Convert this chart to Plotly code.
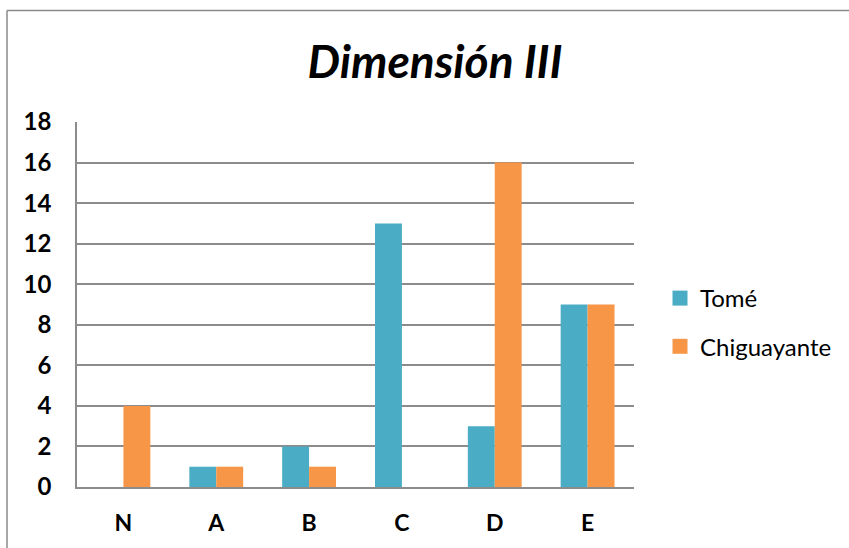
import plotly.graph_objects as go

categories = ["N", "A", "B", "C", "D", "E"]
tome = [0, 1, 2, 13, 3, 9]
chiguayante = [4, 1, 1, 0, 16, 9]
y_ticks = [0, 2, 4, 6, 8, 10, 12, 14, 16, 18]

TEAL = "#4BACC6"
ORANGE = "#F79646"
GRID = "#8C8C8C"
FONT = "Lato"

W, H = 849, 548
L, R, T, B = 77, 215, 122, 61

fig = go.Figure()
for name, vals, color, grp in [("Tomé", tome, TEAL, "t"),
                               ("Chiguayante", chiguayante, ORANGE, "c")]:
    fig.add_trace(go.Bar(x=categories, y=vals, name=name, marker_color=color,
                         marker_line_width=0, legendgroup=grp, showlegend=False))
    # legend key with a larger square swatch
    fig.add_trace(go.Scatter(x=[None], y=[None], mode="markers", name=name,
                             legendgroup=grp,
                             marker=dict(symbol="square", size=15, color=color)))

pw, ph = W - L - R, H - T - B
# outer chart frame (top and left edges)
bx = (7 - L) / pw
by = 1 + (T - 10.5) / ph
fig.add_shape(type="line", xref="paper", yref="paper", x0=bx, x1=(W + 20 - L) / pw,
              y0=by, y1=by, line=dict(color="#8A8A8A", width=1.5))
fig.add_shape(type="line", xref="paper", yref="paper", x0=bx, x1=bx,
              y0=by, y1=-(B + 20) / ph, line=dict(color="#8A8A8A", width=1.5))

fig.update_layout(
    width=W, height=H,
    margin=dict(l=L, r=R, t=T, b=B, autoexpand=False),
    paper_bgcolor="white", plot_bgcolor="white",
    barmode="group", bargap=0.42, bargroupgap=0,
    title=dict(text="<b><i>Dimensión III</i></b>", x=435 / W, xanchor="center",
               y=1 - 62 / H, yanchor="middle", yref="container",
               font=dict(family=FONT, size=46, color="black")),
    legend=dict(x=(660 - L) / pw, xanchor="left", y=1 - (322.5 - T) / ph,
                yanchor="middle",
                font=dict(family=FONT, size=24, color="black"),
                tracegroupgap=14, bgcolor="rgba(0,0,0,0)"),
    font=dict(family=FONT, color="black"),
)
fig.update_xaxes(showline=True, linecolor=GRID, linewidth=1.5, ticks="",
                 automargin=False,
                 tickfont=dict(family=FONT, size=23, color="black", weight="bold"),
                 ticklabelstandoff=15, showgrid=False)
fig.update_yaxes(range=[0, 18], tickvals=y_ticks, showline=True, linecolor=GRID,
                 linewidth=1.5, showgrid=True, gridcolor=GRID, gridwidth=1.5,
                 zeroline=False, ticks="", automargin=False,
                 tickfont=dict(family=FONT, size=24, color="black", weight="bold"),
                 ticklabelstandoff=19)

fig.write_html("out.html")
